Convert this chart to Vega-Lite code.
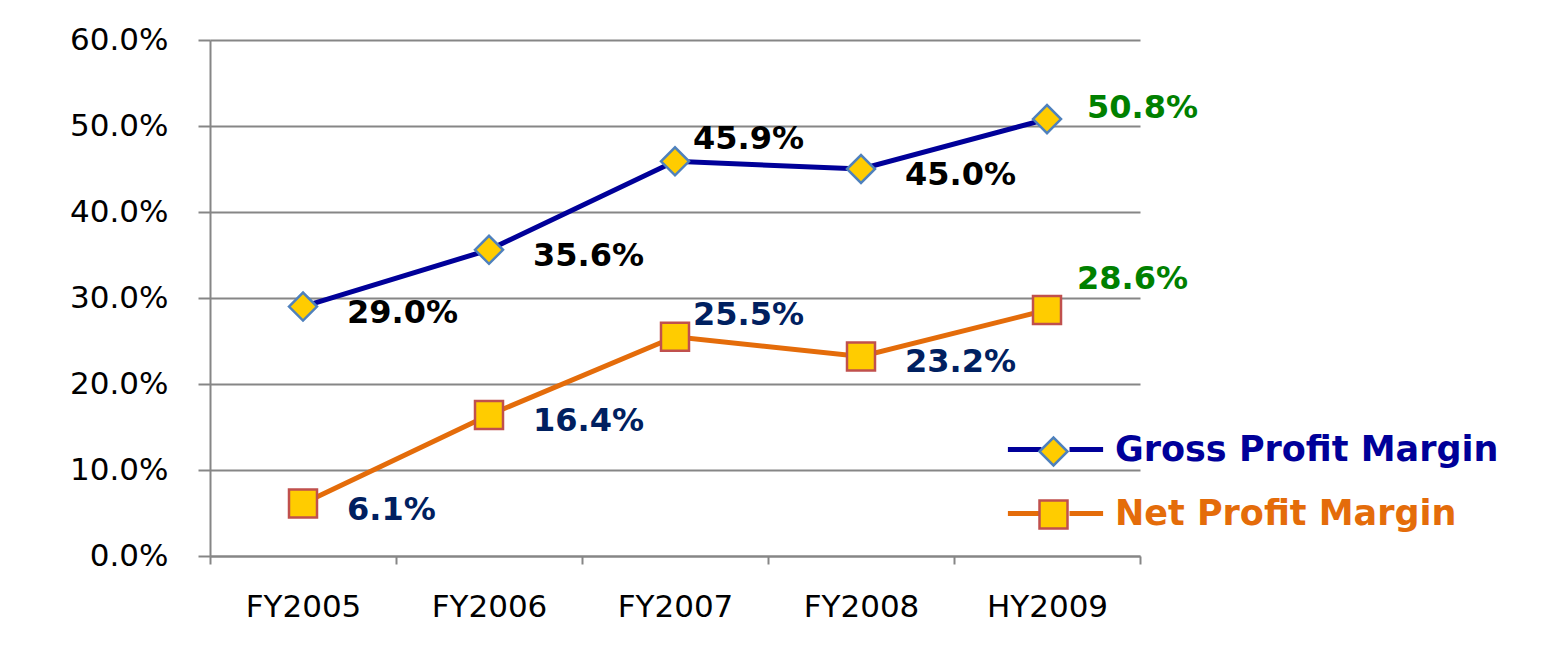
{
  "$schema": "https://vega.github.io/schema/vega-lite/v6.json",
  "autosize": {"type": "none"},
  "padding": {"left": 210, "top": 40, "right": 410, "bottom": 95},
  "width": 930,
  "height": 516,
  "background": "white",
  "config": {"view": {"stroke": null}},
  "data": {
    "values": [
      {"year": "FY2005", "series": "Gross Profit Margin", "value": 0.290},
      {"year": "FY2006", "series": "Gross Profit Margin", "value": 0.356},
      {"year": "FY2007", "series": "Gross Profit Margin", "value": 0.459},
      {"year": "FY2008", "series": "Gross Profit Margin", "value": 0.450},
      {"year": "HY2009", "series": "Gross Profit Margin", "value": 0.508},
      {"year": "FY2005", "series": "Net Profit Margin", "value": 0.061},
      {"year": "FY2006", "series": "Net Profit Margin", "value": 0.164},
      {"year": "FY2007", "series": "Net Profit Margin", "value": 0.255},
      {"year": "FY2008", "series": "Net Profit Margin", "value": 0.232},
      {"year": "HY2009", "series": "Net Profit Margin", "value": 0.286}
    ]
  },
  "encoding": {
    "x": {
      "field": "year", "type": "nominal", "title": null,
      "scale": {"type": "band", "paddingInner": 0, "paddingOuter": 0},
      "axis": {
        "labelAngle": 0, "tickBand": "extent", "tickSize": 8, "tickWidth": 2, "tickColor": "#868686",
        "domainColor": "#868686", "domainWidth": 2, "labelPadding": 28,
        "labelFont": "DejaVu Sans", "labelFontSize": 31, "labelColor": "black", "grid": false
      }
    },
    "y": {
      "field": "value", "type": "quantitative", "title": null,
      "scale": {"domain": [0, 0.6], "nice": false, "zero": true},
      "axis": {
        "format": ".1%", "values": [0, 0.1, 0.2, 0.3, 0.4, 0.5, 0.6],
        "tickSize": 12, "tickWidth": 2, "tickColor": "#868686",
        "domainColor": "#868686", "domainWidth": 2,
        "grid": true, "gridColor": "#868686", "gridWidth": 2,
        "labelPadding": 30, "labelFont": "DejaVu Sans", "labelFontSize": 31, "labelColor": "black"
      }
    }
  },
  "layer": [
    {
      "mark": {"type": "line", "strokeWidth": 5},
      "encoding": {
        "color": {
          "field": "series", "type": "nominal",
          "scale": {"domain": ["Gross Profit Margin", "Net Profit Margin"], "range": ["#000099", "#E46C0A"]},
          "legend": {
            "orient": "none", "legendX": 828, "legendY": 392, "title": null, "padding": 0,
            "symbolType": "M-3.4,0L-1,0M1,0L3.4,0", "symbolSize": 784, "symbolStrokeWidth": 5,
            "labelOffset": 42, "labelFont": "DejaVu Sans", "labelFontWeight": "bold", "labelFontSize": 35,
            "rowPadding": 28, "labelLimit": 500,
            "encode": {
              "labels": {"update": {"fill": {"signal": "datum.value === 'Gross Profit Margin' ? '#000099' : '#E46C0A'"}}}
            }
          }
        }
      }
    },
    {
      "mark": {"type": "point", "filled": false, "fill": "#FFCC00", "fillOpacity": 1, "strokeWidth": 2.5, "opacity": 1, "size": 784},
      "encoding": {
        "shape": {
          "field": "series", "type": "nominal",
          "scale": {"range": ["diamond", "square"]},
          "legend": {
            "orient": "none", "legendX": 828, "legendY": 396, "title": null, "padding": 0,
            "symbolSize": 784, "symbolStrokeWidth": 2.5, "symbolFillColor": "#FFCC00",
            "labelOffset": 0, "labelFontSize": 1, "labelExpr": "''",
            "rowPadding": 24,
            "encode": {
              "symbols": {"update": {
                "fill": {"value": "#FFCC00"}, "fillOpacity": {"value": 1},
                "stroke": {"signal": "datum.value === 'Gross Profit Margin' ? '#4F81BD' : '#C0504D'"}
              }}
            }
          }
        },
        "stroke": {
          "field": "series", "type": "nominal",
          "scale": {"range": ["#4F81BD", "#C0504D"]},
          "legend": null
        }
      }
    },
    {
      "transform": [{"filter": "indexof(['FY2005','FY2006','FY2008'], datum.year) >= 0"}],
      "mark": {"type": "text", "align": "left", "baseline": "middle", "dx": 44, "dy": 6, "font": "DejaVu Sans", "fontWeight": "bold", "fontSize": 32},
      "encoding": {
        "text": {"field": "value", "type": "quantitative", "format": ".1%"},
        "color": {"condition": {"test": "datum.series === 'Gross Profit Margin'", "value": "#000000"}, "value": "#002060"}
      }
    },
    {
      "transform": [{"filter": "datum.year === 'FY2007'"}],
      "mark": {"type": "text", "align": "left", "baseline": "middle", "dx": 18, "dy": -22, "font": "DejaVu Sans", "fontWeight": "bold", "fontSize": 32},
      "encoding": {
        "text": {"field": "value", "type": "quantitative", "format": ".1%"},
        "color": {"condition": {"test": "datum.series === 'Gross Profit Margin'", "value": "#000000"}, "value": "#002060"}
      }
    },
    {
      "transform": [{"filter": "datum.year === 'HY2009' && datum.series === 'Gross Profit Margin'"}],
      "mark": {"type": "text", "align": "left", "baseline": "middle", "dx": 40, "dy": -11, "font": "DejaVu Sans", "fontWeight": "bold", "fontSize": 32, "color": "#008000"},
      "encoding": {
        "text": {"field": "value", "type": "quantitative", "format": ".1%"}
      }
    },
    {
      "transform": [{"filter": "datum.year === 'HY2009' && datum.series === 'Net Profit Margin'"}],
      "mark": {"type": "text", "align": "left", "baseline": "middle", "dx": 30, "dy": -31, "font": "DejaVu Sans", "fontWeight": "bold", "fontSize": 32, "color": "#008000"},
      "encoding": {
        "text": {"field": "value", "type": "quantitative", "format": ".1%"}
      }
    }
  ]
}
